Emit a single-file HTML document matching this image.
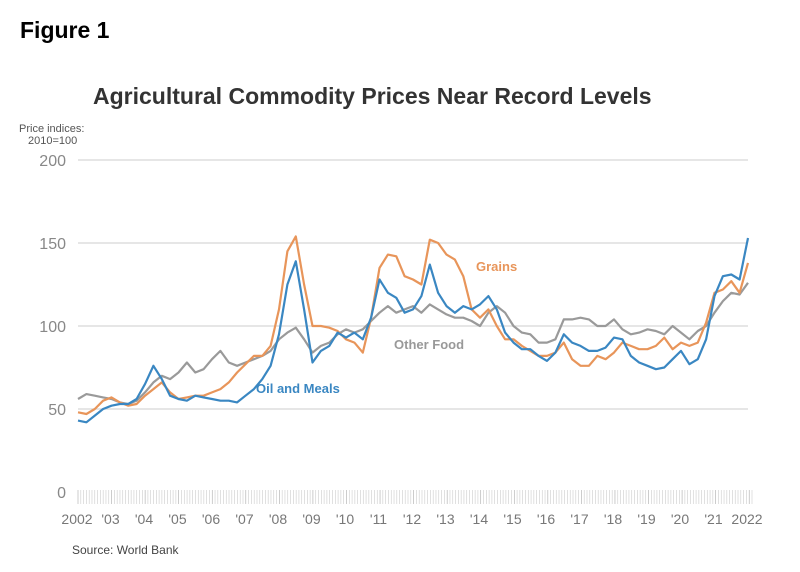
<!DOCTYPE html>
<html><head><meta charset="utf-8"><style>
body{margin:0;background:#fff;width:800px;height:572px;overflow:hidden;font-family:"Liberation Sans",sans-serif}
svg{position:absolute;left:0;top:0}
</style></head><body>
<svg width="800" height="572" id="c">
<text x="20" y="38" font-size="23" font-weight="bold" fill="#000">Figure 1</text>
<text x="93" y="104" font-size="23" font-weight="bold" fill="#333">Agricultural Commodity Prices Near Record Levels</text>
<text x="19" y="132" font-size="11" fill="#555">Price indices:</text>
<text x="28" y="144" font-size="11" fill="#555">2010=100</text>
<text x="72" y="554" font-size="12" fill="#444">Source: World Bank</text>
<g id="grid"></g><g id="ticks"></g><g id="lines"></g>
<text x="476" y="271" font-size="13" font-weight="bold" fill="#e8955a">Grains</text>
<text x="394" y="349" font-size="13" font-weight="bold" fill="#999">Other Food</text>
<text x="256" y="393" font-size="13" font-weight="bold" fill="#3a87c2">Oil and Meals</text>
</svg>
<script>
const yTicks=[0,50,100,150,200];
const xLabels=["2002","'03","'04","'05","'06","'07","'08","'09","'10","'11","'12","'13","'14","'15","'16","'17","'18","'19","'20","'21","2022"];
const oilMeals=[43,42,46,50,52,53,53,56,65,76,68,58,56,55,58,57,56,55,55,54,58,62,68,76,95,125,139,110,78,85,88,96,93,96,92,105,128,120,117,108,110,118,137,120,112,108,112,110,113,118,110,96,90,86,86,82,79,84,95,90,88,85,85,87,93,92,82,78,76,74,75,80,85,77,80,92,118,130,131,128,153];
const grains=[48,47,50,55,57,54,52,53,58,62,66,60,56,57,58,58,60,62,66,72,77,82,82,88,110,145,154,125,100,100,99,97,92,90,84,105,135,143,142,130,128,125,152,150,143,140,130,110,105,110,100,92,92,88,85,82,82,84,90,80,76,76,82,80,84,90,88,86,86,88,93,86,90,88,90,102,120,122,127,120,138];
const otherFood=[56,59,58,57,56,54,53,55,60,66,70,68,72,78,72,74,80,85,78,76,78,80,82,85,92,96,99,92,84,88,90,95,98,96,98,103,108,112,108,110,112,108,113,110,107,105,105,103,100,108,112,108,100,96,95,90,90,92,104,104,105,104,100,100,104,98,95,96,98,97,95,100,96,92,97,100,108,115,120,119,126];
const NS="http://www.w3.org/2000/svg";
const X0=78,X1=748,Y0=492,Y200=160;
const xs=t=>X0+t*(X1-X0)/20;
const ys=v=>Y0-v*(Y0-Y200)/200;
function mk(tag,attrs,parent){const e=document.createElementNS(NS,tag);for(const k in attrs)e.setAttribute(k,attrs[k]);document.getElementById(parent).appendChild(e);return e;}
yTicks.forEach(v=>{
  if(v>0){const l=mk('line',{x1:X0,x2:X1,y1:ys(v),y2:ys(v),stroke:'#d6d6d6','stroke-width':1.2},'grid');
  
  }
  const t=mk('text',{x:66,y:ys(v)+6,'text-anchor':'end','font-size':16,fill:'#888'},'grid');
  t.textContent=v;
  
  
});
for(let m=0;m<=241;m++){
  const x=X0+m*(X1+4-X0)/241;
  const l=mk('line',{x1:x,x2:x,y1:490,y2:504,stroke:m%12==0?'#aaa':'#ccc','stroke-width':0.6},'ticks');
  
  
}
xLabels.forEach((s,i)=>{
  const t=mk('text',{x:xs(i)-1,y:524,'text-anchor':'middle','font-size':14,fill:'#777'},'ticks');
  t.textContent=s;
  
  
});
[[otherFood,'#9a9a9a','other-food-line'],[grains,'#e8955a','grains-line'],[oilMeals,'#3a87c2','oil-meals-line']].forEach(([d,c,n])=>{
  const p=mk('polyline',{points:d.map((v,i)=>xs(i/4).toFixed(1)+','+ys(v).toFixed(1)).join(' '),fill:'none',stroke:c,'stroke-width':2.2,'stroke-linejoin':'round'},'lines');
  
  
});
</script>
</body></html>
